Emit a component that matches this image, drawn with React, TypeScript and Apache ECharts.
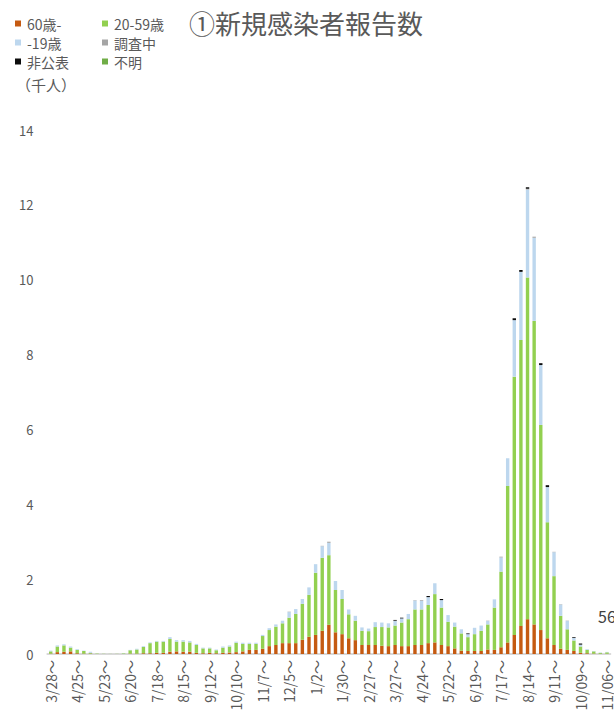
import React, { useEffect, useRef } from "react";
import * as echarts from "echarts";

const categories = [
  "3/28","4/4","4/11","4/18","4/25","5/2","5/9","5/16","5/23","5/30","6/6","6/13",
  "6/20","6/27","7/4","7/11","7/18","7/25","8/1","8/8","8/15","8/22","8/29","9/5",
  "9/12","9/19","9/26","10/3","10/10","10/17","10/24","10/31","11/7","11/14","11/21","11/28",
  "12/5","12/12","12/19","12/26","1/2","1/9","1/16","1/23","1/30","2/6","2/13","2/20",
  "2/27","3/6","3/13","3/20","3/27","4/3","4/10","4/17","4/24","5/1","5/8","5/15",
  "5/22","5/29","6/5","6/12","6/19","6/26","7/3","7/10","7/17","7/24","7/31","8/7",
  "8/14","8/21","8/28","9/4","9/11","9/18","9/25","10/02","10/09","10/16","10/23","10/30",
  "11/06"
];

// thousand persons
const age60 = [
  0.01,0.05,0.06,0.07,0.02,0.01,0.01,0,0,0,0,0,
  0.01,0.01,0.02,0.02,0.03,0.03,0.06,0.07,0.06,0.06,0.03,0.02,
  0.03,0.02,0.03,0.04,0.05,0.07,0.11,0.11,0.14,0.21,0.24,0.29,
  0.29,0.29,0.38,0.46,0.51,0.62,0.78,0.58,0.53,0.42,0.37,0.24,
  0.24,0.24,0.22,0.21,0.24,0.21,0.21,0.24,0.24,0.29,0.31,0.24,
  0.21,0.15,0.09,0.08,0.08,0.08,0.12,0.11,0.18,0.31,0.51,0.75,
  0.93,0.79,0.64,0.42,0.24,0.14,0.11,0.08,0.03,0.02,0.01,0.005,
  0.005
];
const age20to59 = [
  0.06,0.15,0.17,0.10,0.09,0.07,0.02,0.01,0.005,0.003,0.004,0.015,
  0.09,0.11,0.17,0.27,0.30,0.30,0.34,0.26,0.27,0.25,0.21,0.13,
  0.12,0.08,0.14,0.16,0.25,0.20,0.16,0.16,0.34,0.43,0.49,0.53,
  0.68,0.78,0.96,1.12,1.66,1.95,1.86,1.13,0.94,0.64,0.52,0.38,
  0.37,0.48,0.50,0.50,0.52,0.63,0.72,0.95,0.95,1.02,1.29,1.00,
  0.65,0.58,0.46,0.37,0.45,0.54,0.67,1.13,2.02,4.18,6.90,7.64,
  9.13,8.11,5.48,3.10,1.84,0.88,0.55,0.28,0.17,0.09,0.06,0.025,
  0.04
];
const age19 = [
  0.02,0.03,0.03,0.03,0.02,0.01,0.03,0,0,0,0,0.005,
  0.01,0.02,0.02,0.02,0.02,0.02,0.05,0.04,0.04,0.04,0.03,0.02,
  0.02,0.02,0.03,0.03,0.03,0.03,0.03,0.03,0.03,0.05,0.06,0.07,
  0.15,0.13,0.13,0.20,0.23,0.31,0.33,0.24,0.24,0.13,0.13,0.09,
  0.07,0.13,0.12,0.11,0.12,0.11,0.14,0.24,0.23,0.21,0.29,0.20,
  0.18,0.11,0.11,0.08,0.17,0.14,0.09,0.22,0.38,0.74,1.51,1.82,
  2.35,2.22,1.60,0.94,0.64,0.30,0.22,0.07,0.05,0.02,0.01,0.01,
  0.011
];
const chosa = [
  0,0,0,0,0,0,0,0,0,0,0,0,
  0,0,0,0,0,0,0,0,0,0,0,0,
  0,0,0,0,0,0,0,0,0,0,0,0,
  0.01,0,0,0,0,0.01,0.03,0,0,0,0,0,
  0,0,0,0,0.01,0,0,0.01,0.02,0,0,0,
  0,0,0,0,0,0,0.01,0,0.02,0,0,0,
  0.02,0.03,0,0,0.01,0.01,0.01,0,0,0,0,0,
  0
];
const hikohyo = [
  0,0,0,0,0,0,0,0,0,0,0,0,
  0,0,0,0,0,0,0,0,0,0,0,0,
  0,0,0,0,0,0,0,0,0,0,0,0,
  0,0,0,0,0,0,0,0,0,0,0,0,
  0,0,0,0,0.02,0.02,0,0,0,0.03,0,0.03,
  0,0,0,0.02,0,0,0,0,0,0,0.05,0.05,
  0.04,0,0.05,0.05,0,0,0,0.02,0.03,0,0,0,
  0
];
const fumei = [
  0,0,0,0,0,0,0,0,0,0,0,0,
  0,0,0,0,0,0,0,0,0,0,0,0,
  0,0,0,0,0,0,0,0,0,0,0,0,
  0,0,0,0,0,0,0,0,0,0,0,0,
  0,0,0,0,0,0,0,0,0,0,0,0,
  0,0,0,0,0,0,0,0,0,0,0,0,
  0,0,0,0,0,0,0,0,0,0,0,0,
  0
];

const seriesNames = ["60歳-", "20-59歳", "-19歳", "調査中", "非公表", "不明"];
const seriesColors = ["#C55A11", "#92D050", "#BDD7EE", "#A5A5A5", "#0D0D0D", "#70AD47"];
const seriesData = [age60, age20to59, age19, chosa, hikohyo, fumei];

const FONT = "'Noto Sans CJK JP', 'Noto Sans', sans-serif";
const GRAY = "#595959";

export default function App() {
  const ref = useRef<HTMLDivElement>(null);

  useEffect(() => {
    if (!ref.current) return;
    const chart = echarts.init(ref.current, undefined, { renderer: "svg" });
    const legendCommon = {
      orient: "vertical" as const,
      top: 16,
      padding: 0,
      itemWidth: 6,
      itemHeight: 6,
      itemGap: 4,
      icon: "rect",
      selectedMode: false,
      textStyle: { fontFamily: FONT, fontSize: 14, lineHeight: 15, color: GRAY, padding: [0, 0, 0, 1] },
    };
    chart.setOption({
      animation: false,
      textStyle: { fontFamily: FONT },
      title: {
        text: "①新規感染者報告数",
        left: 189,
        top: 8,
        padding: 0,
        textStyle: { fontFamily: FONT, fontSize: 26, lineHeight: 28, fontWeight: "normal", color: GRAY },
      },
      legend: [
        { ...legendCommon, left: 15, data: [seriesNames[0], seriesNames[2], seriesNames[4]] },
        { ...legendCommon, left: 102, data: [seriesNames[1], seriesNames[3], seriesNames[5]] },
      ],
      graphic: [
        {
          type: "text",
          left: 16,
          top: 77,
          style: { text: "（千人）", font: `15px ${FONT}`, fill: GRAY },
        },
        {
          type: "text",
          left: 598,
          top: 608,
          style: { text: "56", font: `16px ${FONT}`, fill: "#404040" },
        },
      ],
      grid: { left: 47.4, right: 3.4, top: 130, bottom: 66, containLabel: false },
      xAxis: {
        type: "category",
        data: categories,
        boundaryGap: true,
        axisLine: { show: true, lineStyle: { color: "#D9D9D9", width: 2 } },
        axisTick: { show: false },
        axisLabel: {
          interval: 3,
          rotate: 90,
          margin: 6,
          fontSize: 14,
          color: GRAY,
          fontFamily: FONT,
          formatter: (v: string) => v + "～",
        },
        splitLine: { show: false },
      },
      yAxis: {
        type: "value",
        min: 0,
        max: 14,
        interval: 2,
        axisLine: { show: false },
        axisTick: { show: false },
        splitLine: { show: false },
        axisLabel: { fontSize: 13, color: GRAY, fontFamily: FONT, margin: 14 },
      },
      series: seriesNames.map((name, k) => ({
        name,
        type: "bar",
        stack: "total",
        barWidth: 3.4,
        itemStyle: { color: seriesColors[k] },
        data: seriesData[k],
      })),
    });
    return () => chart.dispose();
  }, []);

  return (
    <div
      ref={ref}
      style={{ position: "absolute", left: 0, top: 0, width: 614, height: 720, background: "#fff" }}
    />
  );
}
